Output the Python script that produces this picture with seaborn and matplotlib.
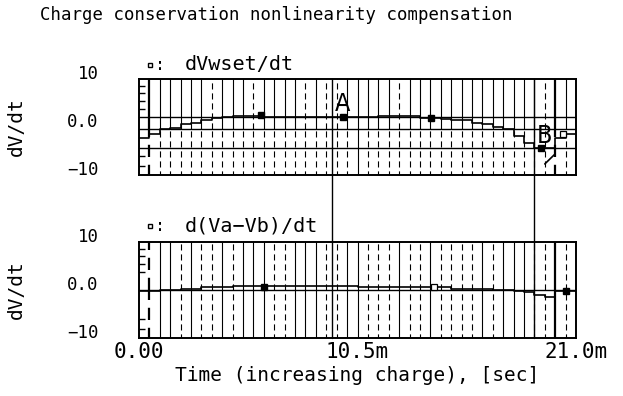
import numpy as np
import pandas as pd
import matplotlib
matplotlib.use("Agg")
import matplotlib.pyplot as plt
from matplotlib.lines import Line2D
from matplotlib.transforms import blended_transform_factory
import seaborn as sns

# One charge step every 0.5 ms over the 21 ms sweep
step_ms = 0.5
n_steps = 42

# Step level of each trace during every 0.5 ms interval [dV/dt]
dvwset_steps = [-2.3, -1.5, -0.4, -0.2, 0.6, 0.8, 1.5, 1.9, 2.1, 2.3, 2.3, 2.3,
                2.1, 2.1, 2.1, 2.1, 2.1, 2.1, 2.1, 2.1, 2.1, 2.1, 2.1,
                2.3, 2.3, 2.3, 2.3, 1.9, 1.9,
                1.7, 1.5, 1.4, 0.8, 0.6, 0.0, -0.4, -1.9, -3.3, -4.4, np.nan, -2.3, -1.5]
dvab_steps = [-0.2, -0.2, 0.0, 0.0, 0.2, 0.2, 0.6, 0.6, 0.6,
              0.8, 0.8, 0.8, 0.8, 0.8, 0.8, 0.8, 0.8, 0.8, 0.8, 0.8, 0.8,
              0.6, 0.6, 0.6, 0.6, 0.6, 0.6, 0.6, 0.6, 0.6,
              0.2, 0.2, 0.2, 0.2, 0.0, 0.0, -0.2, -0.4, -1.0, -1.5, -0.2, -0.2]

# Ramp of dVwset/dt inside the 19.5-20.0 ms interval
ramp_t = [19.5, 20.0]
ramp_v = [-7.7, -5.6]

# Baseline levels drawn across the full sweep
top_levels = [2.1, -0.4, -4.4]
bot_levels = [0.0]

# Spike styling per step index (step edges at 0.5 ms * k)
top_up_dashed = [7, 11, 16, 18, 19, 25, 39]
top_down_solid = [21]
bot_solid = [2, 3, 5, 8, 10, 11, 12, 15, 16, 17, 20, 21, 25, 28, 33, 35, 36, 37, 40]
thick_spikes = [1, 40]

# Trace markers (time ms, value)
top_marks_t = [5.86, 9.8, 14.03, 19.32]
top_marks_v = [2.5, 2.1, 1.9, -4.4]
bot_marks_t = [6.0, 20.5]
bot_marks_v = [0.6, -0.2]
top_open_t, top_open_v = [20.37], [-1.5]
bot_open_t, bot_open_v = [14.2], [0.6]

# Cursors
cursor_names = ["A", "B"]
cursor_t = [9.27, 18.97]
cursor_label_v = [2.2, -4.4]

x_ticks = [0.0, 10.5, 21.0]
x_tick_labels = ["0.00", "10.5m", "21.0m"]
y_ticks = [10, 0, -10]
y_tick_labels = ["10", "0.0", "\u221210"]

sns.set_theme(style="white")
plt.rcParams["font.family"] = ["DejaVu Sans Mono", "DejaVu Sans"]
plt.rcParams.update({"text.color": "black", "axes.labelcolor": "black",
                     "xtick.color": "black", "ytick.color": "black"})

W, H = 623, 396
fig = plt.figure(figsize=(W / 100, H / 100), dpi=100)
ax_top = fig.add_axes([139 / W, 1 - 175 / H, 437 / W, 96 / H])
ax_bot = fig.add_axes([139 / W, 1 - 338 / H, 437 / W, 96 / H])

edges = np.arange(n_steps + 1) * step_ms


def step_frame(values):
    vals = list(values) + [values[-1]]
    return pd.DataFrame({"t": edges, "v": vals})


def draw_spikes(ax, split, up_dashed, down_solid, thick):
    dash = (0, (5.5, 3.5))
    for k in range(1, n_steps):
        t = edges[k]
        lw = 1.6 if k in thick else 0.8
        ax.vlines(t, split, 10.5, colors="black", lw=lw,
                  linestyles=dash if k in up_dashed else "solid")
        ax.vlines(t, -10.5, split, colors="black", lw=lw,
                  linestyles="solid" if k in down_solid else dash)


panels = [
    (ax_top, dvwset_steps, top_levels, -0.4, top_up_dashed, top_down_solid,
     top_marks_t, top_marks_v, top_open_t, top_open_v),
    (ax_bot, dvab_steps, bot_levels, 0.0,
     [k for k in range(n_steps) if k not in bot_solid], bot_solid,
     bot_marks_t, bot_marks_v, bot_open_t, bot_open_v),
]

for (ax, steps, levels, split, up_d, down_s, mt, mv, ot, ov) in panels:
    ax.set_xlim(0, 21.0)
    ax.set_ylim(-10, 10)
    for lv in levels:
        ax.axhline(lv, color="black", lw=1.0)
    draw_spikes(ax, split, up_d, down_s, thick_spikes)
    sns.lineplot(data=step_frame(steps), x="t", y="v", ax=ax, color="black",
                 lw=1.2, drawstyle="steps-post", estimator=None)
    ax.plot(mt, mv, ls="none", marker="s", ms=4, color="black")
    ax.plot(ot, ov, ls="none", marker="s", ms=4, mfc="white", mec="black", mew=0.9)
    ax.set_xlabel("")
    ax.set_ylabel("dV/dt", fontsize=14)
    ax.yaxis.set_label_coords(-113 / 437, 0.5)
    ax.set_yticks(y_ticks)
    ax.set_yticklabels(y_tick_labels, fontsize=12.5)
    for lab in ax.get_yticklabels():
        lab.set_va("baseline")
    ax.tick_params(axis="y", which="major", length=0, pad=29)
    ax.set_yticks([-8.1, -6.0, 3.75, 5.4, 7.1, 8.5], minor=True)
    ax.tick_params(axis="y", which="minor", direction="in", length=4, width=1,
                   color="black", left=True)
    for sp in ax.spines.values():
        sp.set_color("black")
        sp.set_linewidth(1.4)

ax_top.plot(ramp_t, ramp_v, color="black", lw=1.2)

ax_top.set_xticks([])
ax_bot.set_xticks(x_ticks)
ax_bot.set_xticklabels(x_tick_labels, fontsize=15)
ax_bot.tick_params(axis="x", length=0, pad=3)
ax_bot.set_xlabel("Time (increasing charge), [sec]", fontsize=14, labelpad=3)

# Cursors span both panels
bt = blended_transform_factory(ax_top.transData, fig.transFigure)
for name, ct, lv in zip(cursor_names, cursor_t, cursor_label_v):
    fig.add_artist(Line2D([ct, ct], [1 - 338 / H, 1 - 79 / H], transform=bt,
                          color="black", lw=1.0))
    ax_top.text(ct + 0.12, lv, name, fontsize=18, ha="left", va="bottom",
                family=["DejaVu Sans"], fontweight="light", fontstretch="condensed")

# Title and trace legends
fig.text(276 / W, 1 - 15 / H, "Charge conservation nonlinearity compensation",
         ha="center", va="center", fontsize=12.5)
for y_px, label in [(65, "dVwset/dt"), (226, "d(Va\u2212Vb)/dt")]:
    fig.add_artist(Line2D([150 / W], [1 - y_px / H], transform=fig.transFigure,
                          ls="none", marker="s", ms=3.5, mfc="white", mec="black"))
    fig.text(155 / W, 1 - y_px / H, ":", ha="left", va="center", fontsize=12)
    fig.text(185 / W, 1 - y_px / H, label, ha="left", va="center", fontsize=14.5)

fig.savefig("out.png", dpi=100, facecolor="white")
